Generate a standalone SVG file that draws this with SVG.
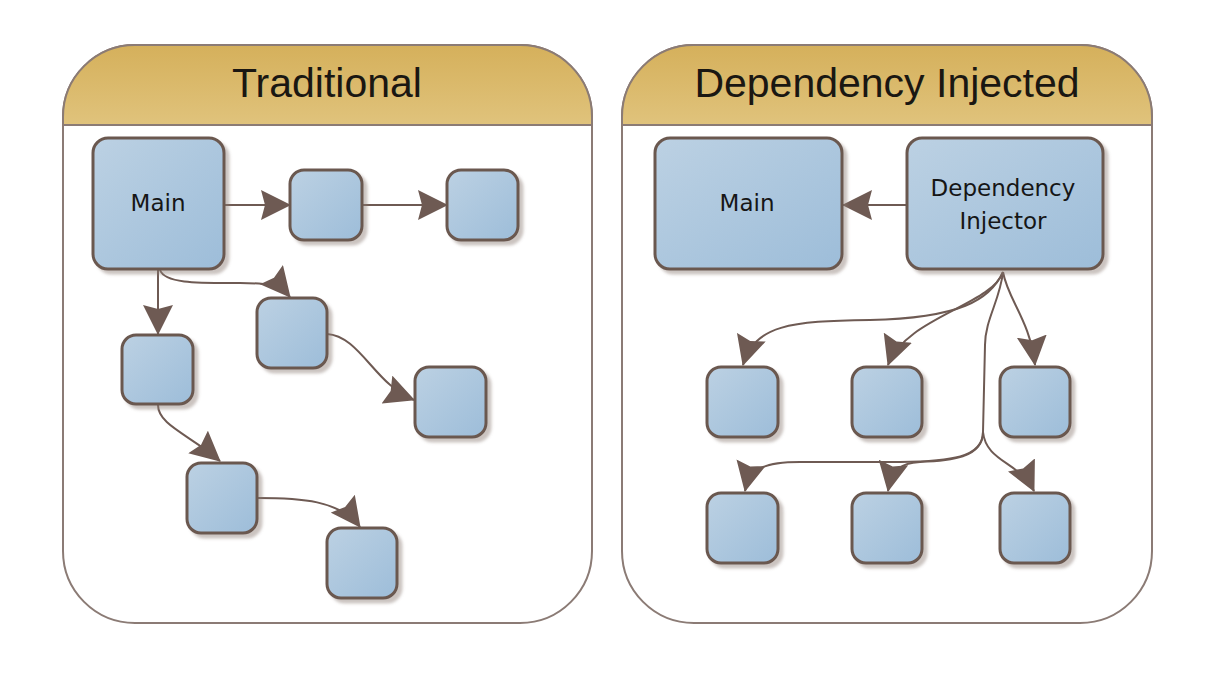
<svg xmlns="http://www.w3.org/2000/svg" width="1206" height="678" viewBox="0 0 1206 678">
  <defs>
    <linearGradient id="nodeFill" x1="0" y1="0" x2="1" y2="1">
      <stop offset="0" stop-color="#bcd1e3"/>
      <stop offset="1" stop-color="#9dbdd9"/>
    </linearGradient>
    <linearGradient id="headFill" x1="0" y1="0" x2="0" y2="1">
      <stop offset="0" stop-color="#d5b05b"/>
      <stop offset="1" stop-color="#e0c37c"/>
    </linearGradient>
    <filter id="shadow" x="-10%" y="-10%" width="130%" height="130%">
      <feDropShadow dx="4" dy="4" stdDeviation="1.5" flood-color="#8c7b74" flood-opacity="0.45"/>
    </filter>
    <marker id="arrow" markerUnits="userSpaceOnUse" viewBox="0 0 30 30" markerWidth="30" markerHeight="30" refX="29" refY="15" orient="auto">
      <path d="M0,0 L30,15 L0,30 L4,15 Z" fill="#6e5a53"/>
    </marker>
  </defs>
  <style>
    .panel { fill: #ffffff; stroke: #8b7b75; stroke-width: 2; }
    .head { fill: url(#headFill); stroke: #8b7b75; stroke-width: 2; }
    .title { font-family: "Liberation Sans", Arial, sans-serif; font-size: 41px; fill: #1a1712; text-anchor: middle; }
    .node { fill: url(#nodeFill); stroke: #6b5850; stroke-width: 3; filter: url(#shadow); }
    .label { font-family: "DejaVu Sans", sans-serif; font-size: 23px; fill: #161616; text-anchor: middle; }
    .conn path, .conn line { fill: none; stroke: #6e5a53; stroke-width: 2; marker-end: url(#arrow); }
  </style>
  <rect width="1206" height="678" fill="#ffffff"/>

  <g id="panel-traditional">
    <path class="panel" d="M63,117 A72,72 0 0 1 135,45 L520,45 A72,72 0 0 1 592,117 L592,551 A72,72 0 0 1 520,623 L135,623 A72,72 0 0 1 63,551 Z"/>
    <path class="head" d="M63,125 L63,117 A72,72 0 0 1 135,45 L520,45 A72,72 0 0 1 592,117 L592,125 Z"/>
    <text class="title" x="327" y="97">Traditional</text>
  </g>

  <g id="panel-di">
    <path class="panel" d="M622,117 A72,72 0 0 1 694,45 L1080,45 A72,72 0 0 1 1152,117 L1152,551 A72,72 0 0 1 1080,623 L694,623 A72,72 0 0 1 622,551 Z"/>
    <path class="head" d="M622,125 L622,117 A72,72 0 0 1 694,45 L1080,45 A72,72 0 0 1 1152,117 L1152,125 Z"/>
    <text class="title" x="887" y="97">Dependency Injected</text>
  </g>

  <g id="connectors" class="conn">
    <!-- Traditional -->
    <line x1="224" y1="205" x2="290" y2="205"/>
    <line x1="363" y1="205" x2="447" y2="205"/>
    <line x1="158" y1="269" x2="158" y2="334"/>
    <path d="M160,270 C165,284 200,283 240,283 C265,283 280,285 290,297"/>
    <path d="M327,334 C360,336 375,385 414,400"/>
    <path d="M158,405 C158,425 190,435 220,461"/>
    <path d="M257,498 C300,498 340,500 360,527"/>
    <!-- Dependency injected -->
    <line x1="907" y1="205" x2="843" y2="205"/>
    <path d="M1003,272 C990,300 960,318 870,320 C790,321 755,325 743,365"/>
    <path d="M1003,272 C992,305 905,318 888,365"/>
    <path d="M1003,272 C1008,300 1030,320 1035,365"/>
    <path d="M1003,272 C1000,300 985,320 985,345 L983,432 C983,458 950,461 900,462 L800,462 C765,462 750,468 745,491"/>
    <path d="M983,432 C983,458 950,461 920,462 C900,463 892,470 888,491"/>
    <path d="M983,432 C986,462 1020,462 1034,491"/>
  </g>

  <g id="trad-main">
    <rect class="node" x="93" y="138" width="131" height="131" rx="15"/>
    <text class="label" x="158" y="211">Main</text>
  </g>
  <g id="trad-a"><rect class="node" x="290" y="170" width="72" height="70" rx="14"/></g>
  <g id="trad-b"><rect class="node" x="447" y="170" width="71" height="70" rx="14"/></g>
  <g id="trad-c"><rect class="node" x="257" y="298" width="70" height="70" rx="14"/></g>
  <g id="trad-d"><rect class="node" x="122" y="335" width="71" height="69" rx="14"/></g>
  <g id="trad-e"><rect class="node" x="415" y="367" width="71" height="70" rx="14"/></g>
  <g id="trad-f"><rect class="node" x="187" y="463" width="70" height="70" rx="14"/></g>
  <g id="trad-g"><rect class="node" x="327" y="528" width="70" height="70" rx="14"/></g>

  <g id="di-main">
    <rect class="node" x="655" y="138" width="187" height="131" rx="15"/>
    <text class="label" x="747" y="211">Main</text>
  </g>
  <g id="di-injector">
    <rect class="node" x="907" y="138" width="196" height="131" rx="15"/>
    <text class="label" x="1003" y="196">Dependency</text>
    <text class="label" x="1003" y="229">Injector</text>
  </g>
  <g id="di-1"><rect class="node" x="707" y="367" width="71" height="70" rx="14"/></g>
  <g id="di-2"><rect class="node" x="852" y="367" width="70" height="70" rx="14"/></g>
  <g id="di-3"><rect class="node" x="1000" y="367" width="70" height="70" rx="14"/></g>
  <g id="di-4"><rect class="node" x="707" y="493" width="71" height="70" rx="14"/></g>
  <g id="di-5"><rect class="node" x="852" y="493" width="70" height="70" rx="14"/></g>
  <g id="di-6"><rect class="node" x="1000" y="493" width="70" height="70" rx="14"/></g>
</svg>
